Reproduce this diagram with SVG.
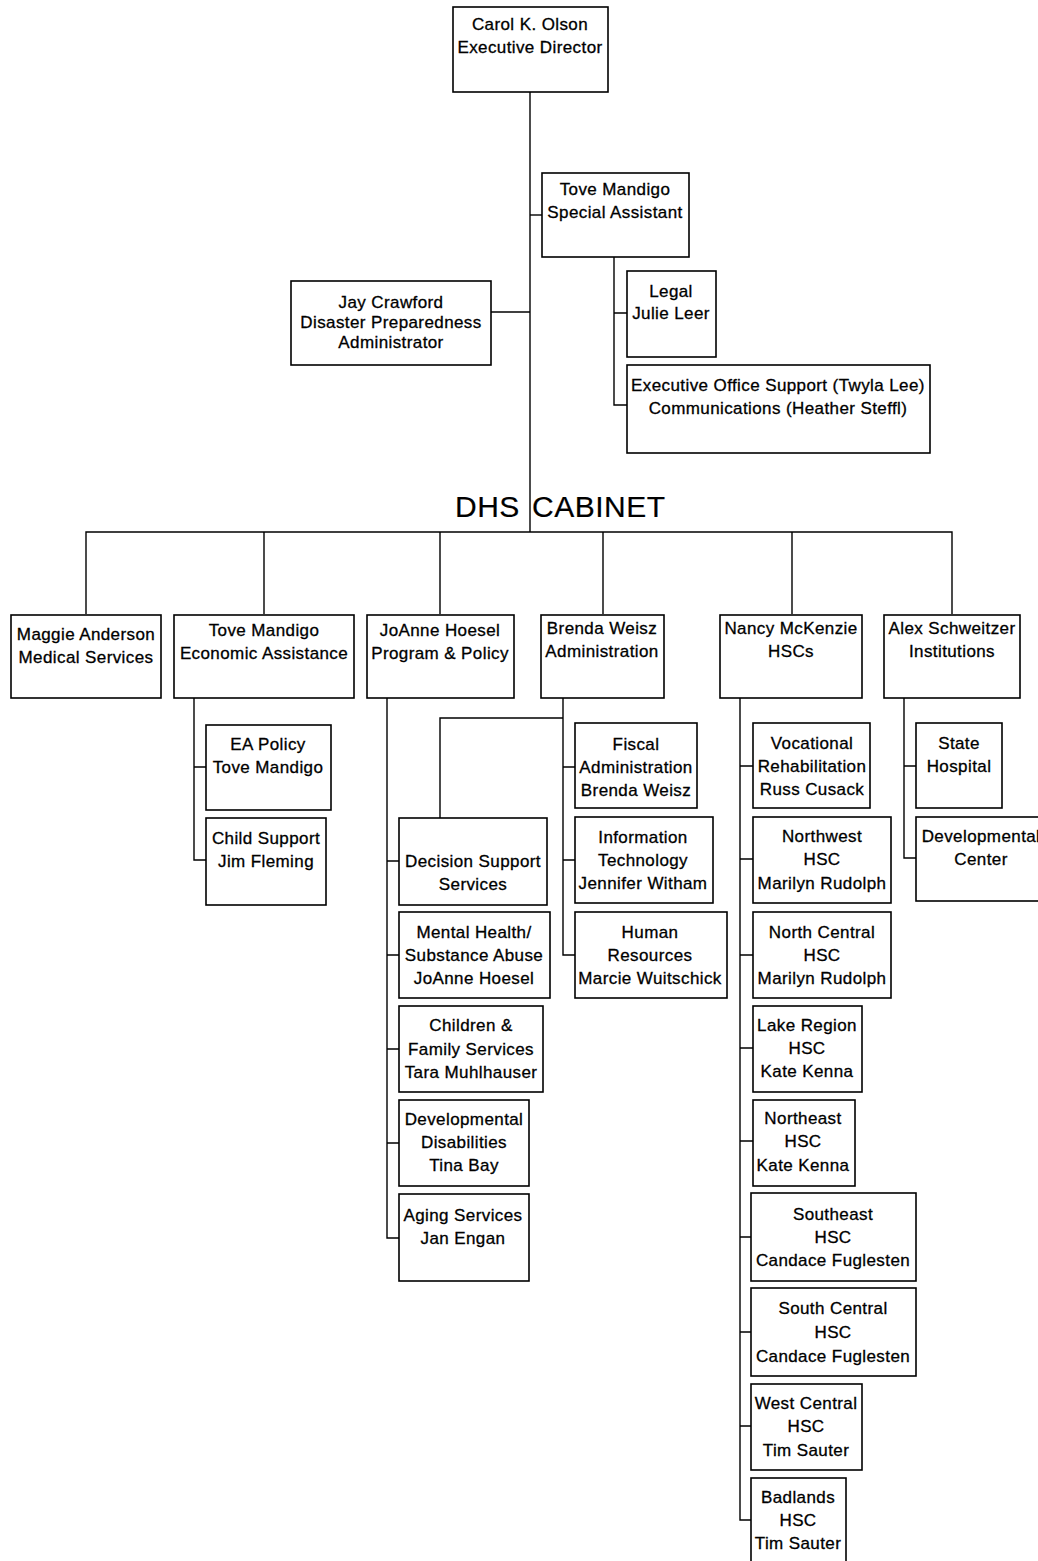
<svg xmlns="http://www.w3.org/2000/svg" width="1038" height="1561" viewBox="0 0 1038 1561">
<style>
rect{fill:#fff;stroke:#000;stroke-width:1.6}
text{font-family:"Liberation Sans",Arial,sans-serif;font-size:17px;letter-spacing:0.4px;fill:#000;stroke:#000;stroke-width:0.3;text-anchor:middle}
.c line,.c path{stroke:#000;stroke-width:1.4;fill:none}
.title{font-size:30px;letter-spacing:0.5px;text-anchor:start;stroke-width:0.2}
</style>
<rect x="0" y="0" width="1038" height="1561" style="stroke:none"/>
<g class="c" id="connectors">
<line x1="530" y1="92" x2="530" y2="532"/>
<line x1="530" y1="215" x2="542" y2="215"/>
<line x1="491" y1="312" x2="530" y2="312"/>
<path d="M614 257V405H627M614 313H627"/>
<path d="M86 614V532H952V614M264 532V614M440 532V614M603 532V614M792 532V614"/>
<path d="M194 698V860H206M194 767H206"/>
<path d="M387 698V1238H399M387 861H399M387 955H399M387 1049H399M387 1143H399"/>
<path d="M563 698V955H575M563 767H575M563 860H575M563 718H440V818"/>
<path d="M740 698V1520H751M740 766H753M740 859H753M740 955H753M740 1048H753M740 1141H753M740 1237H751M740 1332H751M740 1426H751"/>
<path d="M904 698V858H916M904 766H916"/>
</g>
<text class="title" x="455" y="517">DHS <tspan x="532">CABINET</tspan></text>
<g id="carol"><rect x="453" y="7" width="155" height="85"/><text x="530" y="30">Carol K. Olson</text><text x="530" y="53">Executive Director</text></g>
<g id="tove-sa"><rect x="542" y="173" width="147" height="84"/><text x="615" y="195">Tove Mandigo</text><text x="615" y="218">Special Assistant</text></g>
<g id="jay"><rect x="291" y="281" width="200" height="84"/><text x="391" y="308">Jay Crawford</text><text x="391" y="328">Disaster Preparedness</text><text x="391" y="348">Administrator</text></g>
<g id="legal"><rect x="627" y="271" width="89" height="86"/><text x="671" y="297">Legal</text><text x="671" y="319">Julie Leer</text></g>
<g id="exec-office"><rect x="627" y="365" width="303" height="88"/><text x="778" y="391">Executive Office Support (Twyla Lee)</text><text x="778" y="414">Communications (Heather Steffl)</text></g>
<g id="maggie"><rect x="11" y="615" width="150" height="83"/><text x="86" y="640">Maggie Anderson</text><text x="86" y="663">Medical Services</text></g>
<g id="tove-ea"><rect x="174" y="615" width="180" height="83"/><text x="264" y="636">Tove Mandigo</text><text x="264" y="659">Economic Assistance</text></g>
<g id="joanne"><rect x="367" y="615" width="147" height="83"/><text x="440" y="636">JoAnne Hoesel</text><text x="440" y="659">Program &amp; Policy</text></g>
<g id="brenda"><rect x="541" y="615" width="123" height="83"/><text x="602" y="634">Brenda Weisz</text><text x="602" y="657">Administration</text></g>
<g id="nancy"><rect x="720" y="615" width="142" height="83"/><text x="791" y="634">Nancy McKenzie</text><text x="791" y="657">HSCs</text></g>
<g id="alex"><rect x="884" y="615" width="136" height="83"/><text x="952" y="634">Alex Schweitzer</text><text x="952" y="657">Institutions</text></g>
<g id="ea-policy"><rect x="206" y="725" width="125" height="85"/><text x="268" y="750">EA Policy</text><text x="268" y="773">Tove Mandigo</text></g>
<g id="child-support"><rect x="206" y="818" width="120" height="87"/><text x="266" y="844">Child Support</text><text x="266" y="867">Jim Fleming</text></g>
<g id="decision-support"><rect x="399" y="818" width="148" height="87"/><text x="473" y="867">Decision Support</text><text x="473" y="890">Services</text></g>
<g id="mental-health"><rect x="399" y="912" width="151" height="86"/><text x="474" y="938">Mental Health/</text><text x="474" y="961">Substance Abuse</text><text x="474" y="984">JoAnne Hoesel</text></g>
<g id="cfs"><rect x="399" y="1006" width="144" height="86"/><text x="471" y="1031">Children &amp;</text><text x="471" y="1055">Family Services</text><text x="471" y="1078">Tara Muhlhauser</text></g>
<g id="dd"><rect x="399" y="1100" width="130" height="86"/><text x="464" y="1125">Developmental</text><text x="464" y="1148">Disabilities</text><text x="464" y="1171">Tina Bay</text></g>
<g id="aging"><rect x="399" y="1194" width="130" height="87"/><text x="463" y="1221">Aging Services</text><text x="463" y="1244">Jan Engan</text></g>
<g id="fiscal"><rect x="575" y="723" width="122" height="85"/><text x="636" y="750">Fiscal</text><text x="636" y="773">Administration</text><text x="636" y="796">Brenda Weisz</text></g>
<g id="it"><rect x="575" y="817" width="138" height="86"/><text x="643" y="843">Information</text><text x="643" y="866">Technology</text><text x="643" y="889">Jennifer Witham</text></g>
<g id="hr"><rect x="575" y="912" width="152" height="86"/><text x="650" y="938">Human</text><text x="650" y="961">Resources</text><text x="650" y="984">Marcie Wuitschick</text></g>
<g id="voc-rehab"><rect x="753" y="723" width="117" height="85"/><text x="812" y="749">Vocational</text><text x="812" y="772">Rehabilitation</text><text x="812" y="795">Russ Cusack</text></g>
<g id="northwest"><rect x="753" y="817" width="138" height="86"/><text x="822" y="842">Northwest</text><text x="822" y="865">HSC</text><text x="822" y="889">Marilyn Rudolph</text></g>
<g id="north-central"><rect x="753" y="912" width="138" height="86"/><text x="822" y="938">North Central</text><text x="822" y="961">HSC</text><text x="822" y="984">Marilyn Rudolph</text></g>
<g id="lake-region"><rect x="753" y="1006" width="109" height="86"/><text x="807" y="1031">Lake Region</text><text x="807" y="1054">HSC</text><text x="807" y="1077">Kate Kenna</text></g>
<g id="northeast"><rect x="753" y="1100" width="102" height="86"/><text x="803" y="1124">Northeast</text><text x="803" y="1147">HSC</text><text x="803" y="1171">Kate Kenna</text></g>
<g id="southeast"><rect x="751" y="1193" width="165" height="88"/><text x="833" y="1220">Southeast</text><text x="833" y="1243">HSC</text><text x="833" y="1266">Candace Fuglesten</text></g>
<g id="south-central"><rect x="751" y="1288" width="165" height="88"/><text x="833" y="1314">South Central</text><text x="833" y="1338">HSC</text><text x="833" y="1362">Candace Fuglesten</text></g>
<g id="west-central"><rect x="751" y="1384" width="111" height="86"/><text x="806" y="1409">West Central</text><text x="806" y="1432">HSC</text><text x="806" y="1456">Tim Sauter</text></g>
<g id="badlands"><rect x="751" y="1478" width="95" height="85"/><text x="798" y="1503">Badlands</text><text x="798" y="1526">HSC</text><text x="798" y="1549">Tim Sauter</text></g>
<g id="state-hospital"><rect x="916" y="723" width="86" height="85"/><text x="959" y="749">State</text><text x="959" y="772">Hospital</text></g>
<g id="dev-center"><rect x="916" y="817" width="130" height="84"/><text x="981" y="842">Developmental</text><text x="981" y="865">Center</text></g>
</svg>
